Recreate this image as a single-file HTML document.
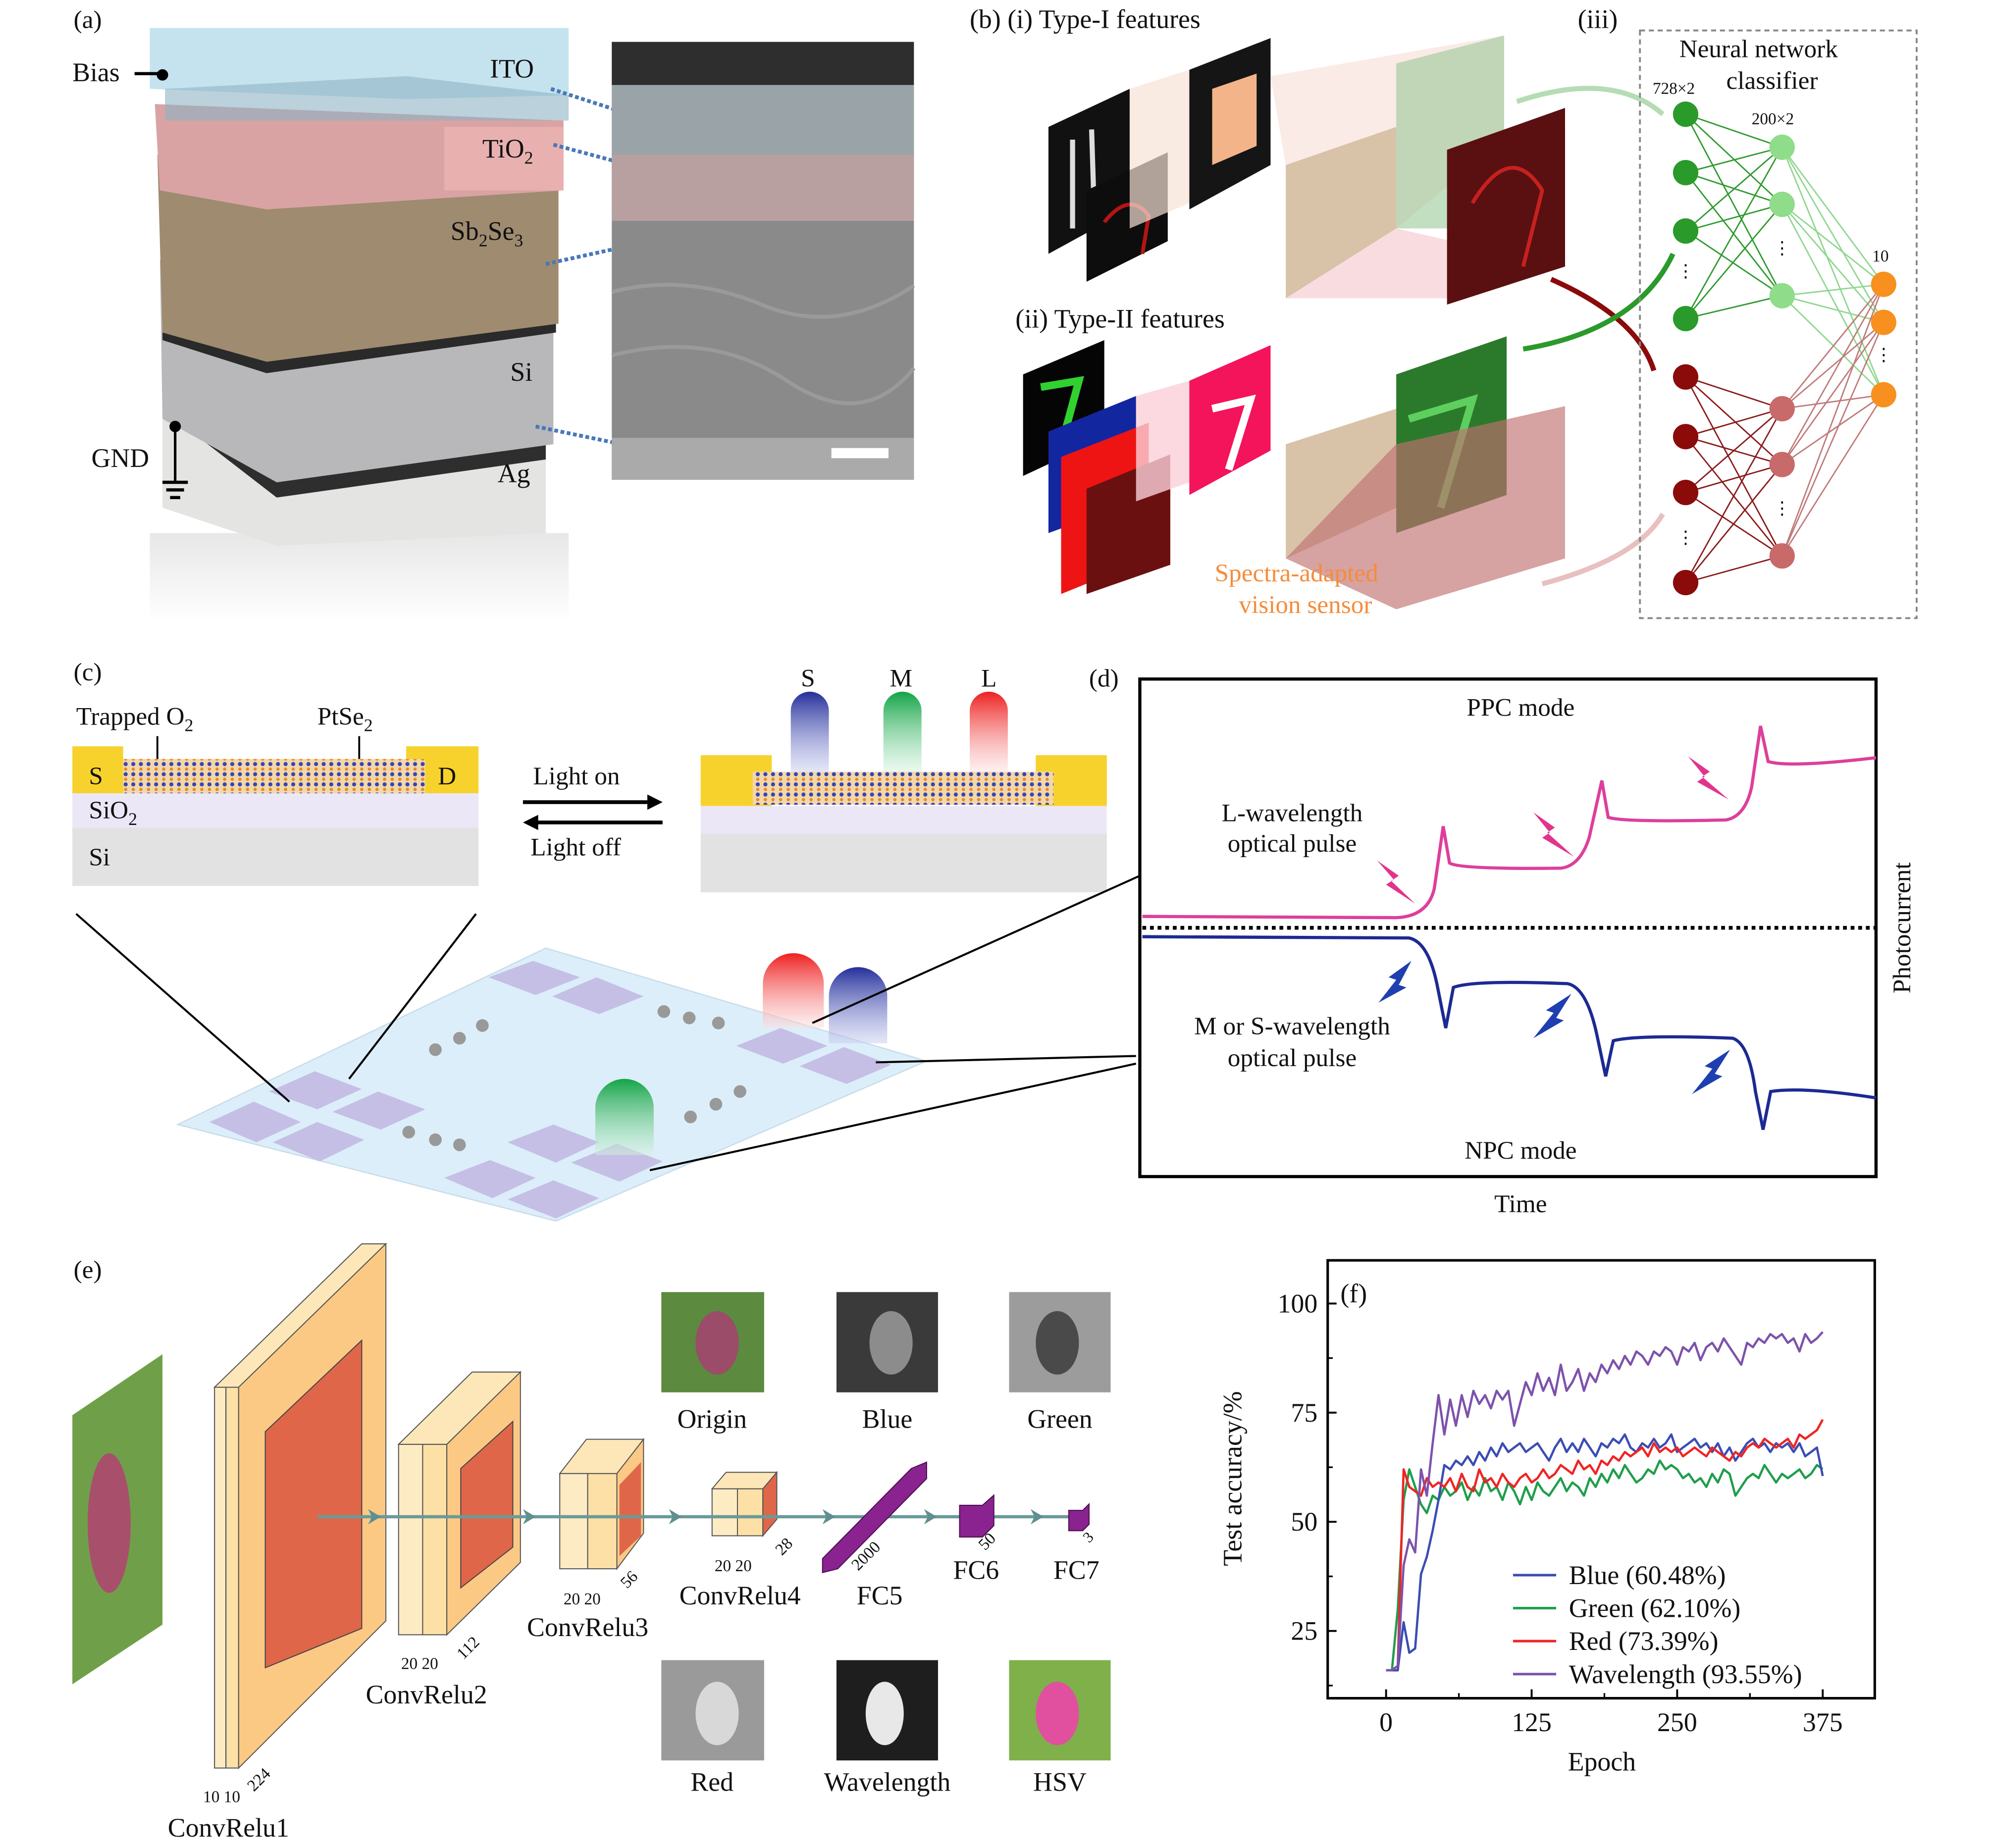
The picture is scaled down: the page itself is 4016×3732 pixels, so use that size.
<!DOCTYPE html>
<html><head><meta charset="utf-8"><style>
html,body{margin:0;padding:0;background:#fff}
svg{display:block}
text{font-family:"Liberation Serif",serif;fill:#111}
</style></head><body>
<svg id="fig" xmlns="http://www.w3.org/2000/svg" width="4016" height="3732" viewBox="0 0 1567 1456" preserveAspectRatio="none">
<defs>
<linearGradient id="gB" x1="0" y1="0" x2="0" y2="1"><stop offset="0" stop-color="#25309a"/><stop offset="1" stop-color="#c9cdf0" stop-opacity="0.5"/></linearGradient>
<linearGradient id="gG" x1="0" y1="0" x2="0" y2="1"><stop offset="0" stop-color="#14a447"/><stop offset="1" stop-color="#d5f3df" stop-opacity="0.5"/></linearGradient>
<linearGradient id="gR" x1="0" y1="0" x2="0" y2="1"><stop offset="0" stop-color="#ee2020"/><stop offset="1" stop-color="#fde0e0" stop-opacity="0.5"/></linearGradient>
<linearGradient id="gShadow" x1="0" y1="0" x2="0" y2="1"><stop offset="0" stop-color="#ddd"/><stop offset="1" stop-color="#fff"/></linearGradient>
<pattern id="lat" width="6" height="8" patternUnits="userSpaceOnUse"><rect width="6" height="8" fill="#f4d7a8"/><circle cx="3" cy="2" r="1.6" fill="#3346b8"/><circle cx="3" cy="6" r="1.3" fill="#e38a2a"/></pattern>
</defs>

<!-- ===== (a) ===== -->
<g>
<text x="58" y="22" font-size="20">(a)</text>
<rect x="118" y="420" width="330" height="70" fill="url(#gShadow)" opacity="0.7"/>
<polygon points="128,330 430,345 430,420 218,430 128,400" fill="#e4e4e2"/>
<polygon points="130,312 218,380 430,350 430,362 218,392 130,324" fill="#2e2e2e"/>
<polygon points="126,205 436,220 436,350 218,380 128,330" fill="#b8b8ba"/>
<polygon points="128,258 210,285 438,255 438,262 210,294 128,268" fill="#2a2a2a"/>
<polygon points="124,122 440,140 440,255 210,285 128,262" fill="#9f8b6f"/>
<polygon points="122,82 444,95 444,150 210,165 126,150" fill="#d9a3a3"/>
<polygon points="350,100 444,100 444,150 350,150" fill="#e8b1b0"/>
<polygon points="118,22 448,22 448,75 320,78 118,70" fill="#c5e3ef"/>
<polygon points="130,70 320,60 448,75 448,95 130,95" fill="#8eb3c3" opacity="0.6"/>
<text x="57" y="64" font-size="21">Bias</text>
<line x1="106" y1="58" x2="128" y2="58" stroke="#000" stroke-width="2.5"/><circle cx="128" cy="59" r="4.5" fill="#000"/>
<text x="386" y="61" font-size="21">ITO</text>
<text x="380" y="124" font-size="21">TiO<tspan font-size="14" dy="5">2</tspan></text>
<text x="355" y="189" font-size="21">Sb<tspan font-size="14" dy="5">2</tspan><tspan dy="-5">Se</tspan><tspan font-size="14" dy="5">3</tspan></text>
<text x="402" y="300" font-size="21">Si</text>
<text x="392" y="380" font-size="21">Ag</text>
<text x="72" y="368" font-size="21">GND</text>
<circle cx="138" cy="336" r="4.5" fill="#000"/><line x1="138" y1="336" x2="138" y2="380" stroke="#000" stroke-width="2"/>
<line x1="128" y1="380" x2="148" y2="380" stroke="#000" stroke-width="2.5"/><line x1="131" y1="386" x2="145" y2="386" stroke="#000" stroke-width="2.5"/><line x1="134" y1="392" x2="142" y2="392" stroke="#000" stroke-width="2.5"/>
<g stroke="#4a78b8" stroke-width="3" stroke-dasharray="3,2">
<line x1="434" y1="70" x2="496" y2="90"/><line x1="436" y1="114" x2="496" y2="130"/><line x1="430" y1="208" x2="494" y2="194"/><line x1="422" y1="336" x2="490" y2="350"/></g>
<g>
<rect x="482" y="33" width="238" height="345" fill="#8a8a8a"/>
<rect x="482" y="33" width="238" height="34" fill="#2e2e2e"/>
<rect x="482" y="67" width="238" height="55" fill="#9aa4a8"/>
<rect x="482" y="122" width="238" height="52" fill="#b8a0a0"/>
<path d="M482,230 Q540,215 600,240 T720,225 M482,280 Q560,260 620,300 T720,290" stroke="#9a9a9a" stroke-width="3" fill="none"/>
<rect x="482" y="345" width="238" height="33" fill="#aaa"/>
<rect x="655" y="353" width="45" height="8" fill="#fff"/>
</g>
</g>

<!-- ===== (b) ===== -->
<g>
<text x="764" y="22" font-size="21">(b) (i) Type-I features</text>
<text x="800" y="258" font-size="21">(ii) Type-II features</text>
<text x="1243" y="22" font-size="21">(iii)</text>
<polygon points="826,100 890,70 890,165 826,200" fill="#111"/>
<path d="M845,110 L845,180 M860,102 L862,165" stroke="#ddd" stroke-width="4"/>
<polygon points="856,150 920,120 920,190 856,222" fill="#0d0d0d"/>
<path d="M870,175 Q890,150 905,170 L900,200" stroke="#b51414" stroke-width="3" fill="none"/>
<polygon points="890,70 937,55 937,160 890,180" fill="#f7e2d6" opacity="0.7"/>
<polygon points="937,55 1001,30 1001,130 937,165" fill="#151515"/>
<polygon points="955,70 990,58 990,115 955,130" fill="#f4b48a"/>
<polygon points="1001,60 1185,28 1185,110 1100,180 1013,130" fill="#f6ded6" opacity="0.6"/>
<polygon points="1013,130 1100,100 1100,180 1013,235" fill="#d8c2a8"/>
<polygon points="1100,50 1185,28 1185,180 1100,180" fill="#8fc58f" opacity="0.55"/>
<polygon points="1013,235 1140,235 1233,210 1100,180" fill="#f7cdd2" opacity="0.7"/>
<polygon points="1140,118 1233,85 1233,210 1140,240" fill="#5a1010"/>
<path d="M1160,160 Q1190,110 1215,150 L1200,210" stroke="#c82020" stroke-width="3" fill="none"/>
<polygon points="806,295 870,268 870,345 806,375" fill="#050505"/>
<path d="M820,305 L850,300 L835,355" stroke="#31d12f" stroke-width="6" fill="none"/>
<polygon points="826,340 895,312 895,395 826,420" fill="#1226a0"/>
<polygon points="836,360 905,333 905,440 836,468" fill="#ee1414"/>
<polygon points="856,385 922,358 922,445 856,468" fill="#6b1010"/>
<polygon points="895,312 937,300 937,380 895,395" fill="#fbd0d8" opacity="0.8"/>
<polygon points="937,300 1001,272 1001,355 937,390" fill="#f3145b"/>
<path d="M955,322 L985,315 L968,370" stroke="#fff" stroke-width="6" fill="none"/>
<polygon points="1013,350 1100,322 1100,400 1013,440" fill="#d8c2a8"/>
<polygon points="1100,295 1187,265 1187,390 1100,420" fill="#2b7a2b"/>
<path d="M1110,330 L1160,315 L1135,400" stroke="#5ecf5e" stroke-width="6" fill="none"/>
<polygon points="1100,350 1233,320 1233,440 1100,480 1013,440" fill="#c07070" opacity="0.65"/>
<text x="957" y="458" font-size="20" style="fill:#f58c3c">Spectra-adapted</text>
<text x="976" y="483" font-size="20" style="fill:#f58c3c">vision sensor</text>
<path d="M1195,80 Q1270,55 1310,90" stroke="#b5dcb5" stroke-width="4" fill="none"/>
<path d="M1222,220 Q1290,250 1303,292" stroke="#8b0a0a" stroke-width="4" fill="none"/>
<path d="M1200,275 Q1290,260 1318,200" stroke="#2a9a2a" stroke-width="4" fill="none"/>
<path d="M1215,460 Q1290,440 1310,405" stroke="#e8c0c0" stroke-width="4" fill="none"/>
<rect x="1292" y="24" width="218" height="463" fill="none" stroke="#888" stroke-width="1.5" stroke-dasharray="4,3"/>
<text x="1323" y="45" font-size="20">Neural network</text>
<text x="1360" y="70" font-size="20">classifier</text>
<text x="1302" y="74" font-size="13">728×2</text>
<text x="1380" y="98" font-size="13">200×2</text>
<text x="1475" y="206" font-size="13">10</text>
<g id="nn"></g>
</g>

<!-- ===== (c) ===== -->
<g>
<text x="58" y="536" font-size="20">(c)</text>
<rect x="57" y="652" width="320" height="46" fill="#e2e2e2"/>
<rect x="57" y="625" width="320" height="27" fill="#ece7f7"/>
<rect x="57" y="588" width="40" height="37" fill="#f7d22c"/>
<rect x="320" y="588" width="57" height="37" fill="#f7d22c"/>
<rect x="97" y="598" width="238" height="27" fill="url(#lat)"/>
<text x="60" y="571" font-size="20">Trapped O<tspan font-size="14" dy="5">2</tspan></text>
<text x="250" y="571" font-size="20">PtSe<tspan font-size="14" dy="5">2</tspan></text>
<line x1="124" y1="598" x2="124" y2="580" stroke="#000" stroke-width="1.5"/><line x1="283" y1="598" x2="283" y2="580" stroke="#000" stroke-width="1.5"/>
<text x="70" y="618" font-size="20">S</text>
<text x="345" y="618" font-size="20">D</text>
<text x="70" y="645" font-size="20">SiO<tspan font-size="14" dy="5">2</tspan></text>
<text x="70" y="682" font-size="20">Si</text>
<text x="420" y="618" font-size="20">Light on</text>
<text x="418" y="674" font-size="20">Light off</text>
<line x1="412" y1="632" x2="514" y2="632" stroke="#000" stroke-width="3"/><polygon points="522,632 510,626 510,638" fill="#000"/>
<line x1="420" y1="648" x2="522" y2="648" stroke="#000" stroke-width="3"/><polygon points="412,648 424,642 424,654" fill="#000"/>
<rect x="552" y="657" width="320" height="46" fill="#e2e2e2"/>
<rect x="552" y="635" width="320" height="22" fill="#ece7f7"/>
<rect x="552" y="595" width="56" height="40" fill="#f7d22c"/><rect x="816" y="595" width="56" height="40" fill="#f7d22c"/>
<rect x="593" y="608" width="237" height="26" fill="url(#lat)"/>
<path d="M623,608 V560 A15,15 0 0 1 653,560 V608 Z" fill="url(#gB)"/>
<path d="M696,608 V560 A15,15 0 0 1 726,560 V608 Z" fill="url(#gG)"/>
<path d="M764,608 V560 A15,15 0 0 1 794,560 V608 Z" fill="url(#gR)"/>
<text x="631" y="541" font-size="20">S</text>
<text x="701" y="541" font-size="20">M</text>
<text x="773" y="541" font-size="20">L</text>
<polygon points="140,886 430,747 730,836 438,962" fill="#dceef9" stroke="#c8dcea"/>
<g fill="#c5bfe6">
<polygon points="385,770 420,757 457,770 422,784"/><polygon points="435,785 470,770 507,785 472,799"/>
<polygon points="212,860 248,844 285,858 250,874"/><polygon points="262,876 298,860 335,874 300,890"/>
<polygon points="165,884 200,868 237,884 202,900"/><polygon points="215,900 250,884 287,898 252,915"/>
<polygon points="580,824 615,810 652,824 617,838"/><polygon points="630,840 665,825 702,839 667,854"/>
<polygon points="400,900 436,886 472,900 438,916"/><polygon points="450,916 486,901 522,915 488,931"/>
<polygon points="350,928 386,914 422,928 388,944"/><polygon points="400,945 436,930 472,944 438,960"/>
</g>
<g fill="#999">
<circle cx="343" cy="827" r="5"/><circle cx="362" cy="818" r="5"/><circle cx="380" cy="808" r="5"/>
<circle cx="523" cy="797" r="5"/><circle cx="543" cy="802" r="5"/><circle cx="566" cy="806" r="5"/>
<circle cx="322" cy="892" r="5"/><circle cx="343" cy="898" r="5"/><circle cx="362" cy="902" r="5"/>
<circle cx="544" cy="880" r="5"/><circle cx="564" cy="870" r="5"/><circle cx="583" cy="860" r="5"/>
</g>
<path d="M601,810 V775 A24,24 0 0 1 649,775 V810 Z" fill="url(#gR)"/>
<path d="M653,822 V785 A23,23 0 0 1 699,785 V822 Z" fill="url(#gB)"/>
<path d="M469,910 V873 A23,23 0 0 1 515,873 V910 Z" fill="url(#gG)"/>
<g stroke="#000" stroke-width="1.6">
<line x1="60" y1="720" x2="228" y2="868"/><line x1="375" y1="720" x2="275" y2="850"/>
<line x1="640" y1="806" x2="898" y2="690"/><line x1="690" y1="837" x2="895" y2="832"/><line x1="512" y1="922" x2="895" y2="838"/></g>
</g>

<!-- ===== (d) ===== -->
<g>
<text x="858" y="541" font-size="20">(d)</text>
<rect x="898" y="535" width="580" height="392" fill="#fff" stroke="#000" stroke-width="2.5"/>
<text x="1198" y="564" font-size="20" text-anchor="middle">PPC mode</text>
<text x="1198" y="913" font-size="20" text-anchor="middle">NPC mode</text>
<text x="1198" y="955" font-size="20" text-anchor="middle">Time</text>
<text x="1505" y="731" font-size="20" text-anchor="middle" transform="rotate(-90 1505 731)">Photocurrent</text>
<text x="1018" y="647" font-size="20" text-anchor="middle">L-wavelength</text>
<text x="1018" y="671" font-size="20" text-anchor="middle">optical pulse</text>
<text x="1018" y="815" font-size="20" text-anchor="middle">M or S-wavelength</text>
<text x="1018" y="840" font-size="20" text-anchor="middle">optical pulse</text>
<line x1="900" y1="731" x2="1477" y2="731" stroke="#000" stroke-width="3" stroke-dasharray="3,3"/>
<path d="M900,722 L1100,723 Q1125,722 1130,700 L1137,651 L1142,680 Q1150,685 1230,684 Q1245,682 1252,660 L1262,615 L1267,644 Q1280,648 1360,646 Q1375,643 1380,620 L1387,572 L1393,600 Q1410,605 1478,597" fill="none" stroke="#dd3f9c" stroke-width="2.5"/>
<path d="M900,738 L1110,739 Q1125,742 1132,775 L1139,810 L1145,778 Q1160,772 1235,775 Q1250,778 1258,815 L1265,848 L1271,820 Q1290,815 1365,818 Q1378,822 1383,860 L1389,890 L1395,860 Q1420,856 1478,865" fill="none" stroke="#1c2a94" stroke-width="2.5"/>
<g fill="#e2348d">
<polygon points="1085,678 1102,690 1096,694 1115,712 1092,697 1098,693"/>
<polygon points="1208,640 1225,652 1219,656 1240,675 1215,660 1221,656"/>
<polygon points="1330,596 1347,608 1341,612 1362,630 1337,616 1343,612"/></g>
<g fill="#1e3fb0">
<polygon points="1112,757 1102,776 1108,778 1086,790 1100,772 1094,770"/>
<polygon points="1238,783 1226,802 1232,804 1208,818 1224,798 1218,796"/>
<polygon points="1363,827 1351,846 1357,848 1333,862 1349,842 1343,840"/></g>
</g>

<!-- ===== (e) ===== -->
<g>
<text x="58" y="1007" font-size="20">(e)</text>
<polygon points="57,1115 128,1067 128,1280 57,1327" fill="#6fa049"/>
<ellipse cx="86" cy="1200" rx="17" ry="55" fill="#a8506b"/>
<polygon points="169,1093 188,1093 304,980 285,980" fill="#fde7b8" stroke="#555" stroke-width="0.8"/>
<rect x="169" y="1093" width="9" height="300" fill="#fdebc4" stroke="#555" stroke-width="0.8"/>
<rect x="178" y="1093" width="10" height="300" fill="#fce0a6" stroke="#555" stroke-width="0.8"/>
<polygon points="188,1093 304,980 304,1277 188,1393" fill="#fcc985" stroke="#555" stroke-width="0.8"/>
<polygon points="209,1128 285,1056 285,1283 209,1314" fill="#e0664a" stroke="#444" stroke-width="0.8"/>
<text x="160" y="1420" font-size="13">10 10</text>
<text x="200" y="1412" font-size="13" transform="rotate(-45 200 1412)">224</text>
<text x="180" y="1447" font-size="21" text-anchor="middle">ConvRelu1</text>
<polygon points="314,1138 352,1138 410,1081 372,1081" fill="#fde7b8" stroke="#555" stroke-width="0.8"/>
<rect x="314" y="1138" width="19" height="150" fill="#fdebc4" stroke="#555" stroke-width="0.8"/>
<rect x="333" y="1138" width="19" height="150" fill="#fce0a6" stroke="#555" stroke-width="0.8"/>
<polygon points="352,1138 410,1081 410,1231 352,1288" fill="#fcc985" stroke="#555" stroke-width="0.8"/>
<polygon points="363,1157 404,1120 404,1219 363,1251" fill="#e0664a" stroke="#444" stroke-width="0.8"/>
<text x="316" y="1315" font-size="13">20 20</text>
<text x="365" y="1308" font-size="13" transform="rotate(-45 365 1308)">112</text>
<text x="336" y="1342" font-size="21" text-anchor="middle">ConvRelu2</text>
<polygon points="441,1161 486,1161 507,1134 462,1134" fill="#fde7b8" stroke="#555" stroke-width="0.8"/>
<rect x="441" y="1161" width="22" height="75" fill="#fdebc4" stroke="#555" stroke-width="0.8"/>
<rect x="463" y="1161" width="23" height="75" fill="#fce0a6" stroke="#555" stroke-width="0.8"/>
<polygon points="486,1161 507,1134 507,1208 486,1236" fill="#fcc985" stroke="#555" stroke-width="0.8"/>
<polygon points="488,1170 505,1152 505,1210 488,1226" fill="#e0664a"/>
<text x="444" y="1264" font-size="13">20 20</text>
<text x="494" y="1252" font-size="13" transform="rotate(-45 494 1252)">56</text>
<text x="463" y="1289" font-size="21" text-anchor="middle">ConvRelu3</text>
<polygon points="561,1173 601,1173 612,1160 572,1160" fill="#fde7b8" stroke="#555" stroke-width="0.8"/>
<rect x="561" y="1173" width="20" height="37" fill="#fdebc4" stroke="#555" stroke-width="0.8"/>
<rect x="581" y="1173" width="20" height="37" fill="#fce0a6" stroke="#555" stroke-width="0.8"/>
<polygon points="601,1173 612,1160 612,1197 601,1210" fill="#e0664a" stroke="#555" stroke-width="0.8"/>
<text x="563" y="1238" font-size="13">20 20</text>
<text x="616" y="1226" font-size="13" transform="rotate(-45 616 1226)">28</text>
<text x="583" y="1264" font-size="21" text-anchor="middle">ConvRelu4</text>
<line x1="250" y1="1195" x2="858" y2="1195" stroke="#6a9a9a" stroke-width="2.5"/>
<g fill="#5f8f8f">
<polygon points="300,1195 290,1189 293,1195 290,1201"/><polygon points="422,1195 412,1189 415,1195 412,1201"/>
<polygon points="537,1195 527,1189 530,1195 527,1201"/><polygon points="658,1195 648,1189 651,1195 648,1201"/>
<polygon points="738,1195 728,1189 731,1195 728,1201"/><polygon points="822,1195 812,1189 815,1195 812,1201"/></g>
<polygon points="648,1228 718,1157 730,1152 730,1165 660,1236 648,1239" fill="#8a2290" stroke="#4a0f4e" stroke-width="0.8"/>
<text x="676" y="1238" font-size="13" transform="rotate(-45 676 1238)">2000</text>
<text x="693" y="1264" font-size="21" text-anchor="middle">FC5</text>
<polygon points="756,1186 774,1186 783,1178 783,1202 774,1211 756,1211" fill="#8a2290" stroke="#4a0f4e" stroke-width="0.8"/>
<text x="776" y="1222" font-size="13" transform="rotate(-45 776 1222)">50</text>
<text x="769" y="1244" font-size="21" text-anchor="middle">FC6</text>
<polygon points="842,1190 853,1190 858,1185 858,1201 853,1206 842,1206" fill="#8a2290" stroke="#4a0f4e" stroke-width="0.8"/>
<text x="858" y="1216" font-size="12" transform="rotate(-45 858 1216)">3</text>
<text x="848" y="1244" font-size="21" text-anchor="middle">FC7</text>
<rect x="521" y="1018" width="81" height="79" fill="#5c8a3e"/><ellipse cx="565" cy="1058" rx="17" ry="25" fill="#9b4c68"/>
<rect x="659" y="1018" width="80" height="79" fill="#3a3a3a"/><ellipse cx="702" cy="1058" rx="17" ry="25" fill="#8c8c8c"/>
<rect x="795" y="1018" width="80" height="79" fill="#9c9c9c"/><ellipse cx="833" cy="1058" rx="17" ry="25" fill="#4a4a4a"/>
<rect x="521" y="1308" width="81" height="79" fill="#9a9a9a"/><ellipse cx="565" cy="1350" rx="17" ry="25" fill="#d8d8d8"/>
<rect x="659" y="1308" width="80" height="79" fill="#1e1e1e"/><ellipse cx="697" cy="1350" rx="15" ry="25" fill="#e8e8e8"/>
<rect x="795" y="1308" width="80" height="79" fill="#7fb04a"/><ellipse cx="833" cy="1350" rx="17" ry="25" fill="#e0509f"/>
<text x="561" y="1125" font-size="21" text-anchor="middle">Origin</text>
<text x="699" y="1125" font-size="21" text-anchor="middle">Blue</text>
<text x="835" y="1125" font-size="21" text-anchor="middle">Green</text>
<text x="561" y="1411" font-size="21" text-anchor="middle">Red</text>
<text x="699" y="1411" font-size="21" text-anchor="middle">Wavelength</text>
<text x="835" y="1411" font-size="21" text-anchor="middle">HSV</text>
</g>

<!-- ===== (f) chart ===== -->
<g id="chartF">
<rect x="1046" y="993" width="431" height="345" fill="none" stroke="#000" stroke-width="2"/>
<text x="1056" y="1026" font-size="21">(f)</text>
<text x="978" y="1165" font-size="21" text-anchor="middle" transform="rotate(-90 978 1165)">Test accuracy/%</text>
<text x="1262" y="1395" font-size="21" text-anchor="middle">Epoch</text>
<g id="ticks"></g><g id="series"></g><g id="legend"></g>
</g>
</svg>
<script>
const epochs = [0,5,10,15,20,25,30,35,40,45,50,55,60,65,70,75,80,85,90,95,100,105,110,115,120,125,130,135,140,145,150,155,160,165,170,175,180,185,190,195,200,205,210,215,220,225,230,235,240,245,250,255,260,265,270,275,280,285,290,295,300,305,310,315,320,325,330,335,340,345,350,355,360,365,370,375];
const blueAcc = [16,16,16,27,20,21,38,42,48,55,63,62,64,63,65,63,66,64,67,65,68,66,67,68,66,67,68,66,64,67,69,66,68,66,69,67,65,68,67,69,68,70,67,66,68,67,69,67,68,70,66,67,68,69,67,68,66,68,65,67,64,66,68,69,67,68,66,68,67,68,66,68,65,66,67,60.5];
const greenAcc = [16,16,30,55,62,58,54,52,56,55,58,56,57,59,55,58,56,60,57,58,55,59,57,54,58,55,59,57,56,58,60,57,59,58,56,60,58,61,59,62,60,63,61,59,60,62,61,64,62,63,62,60,61,59,60,58,61,59,62,61,56,58,60,61,60,63,61,59,61,60,61,62,60,61,63,62.1];
const redAcc = [16,16,17,62,58,57,56,60,58,59,58,60,57,61,58,57,62,59,60,58,61,59,58,60,61,59,60,62,60,61,63,62,61,64,62,63,61,64,63,65,64,66,65,66,67,65,68,66,67,66,67,65,66,67,66,65,67,66,65,64,66,65,67,68,67,69,68,67,68,69,67,70,69,70,71,73.4];
const wavelengthAcc = [16,16,17,40,46,43,62,56,68,79,70,78,72,79,74,80,77,79,76,80,78,80,72,77,82,79,84,80,83,79,86,80,82,85,80,84,82,86,84,87,85,88,86,89,88,86,89,88,90,89,86,90,89,91,87,90,91,89,92,90,88,86,91,90,92,91,93,92,93,91,92,89,93,91,92,93.5];
const xTicks = [0,125,250,375];
const yTicks = [25,50,75,100];
const legendLabels = ["Blue (60.48%)","Green (62.10%)","Red (73.39%)","Wavelength (93.55%)"];
const seriesColors = ["#3b4db3","#1f9e4c","#f02424","#7d52ac"];

const NS="http://www.w3.org/2000/svg";
const X0=1046,X1=1477,Y0=993,Y1=1338;
function xS(e){return 1092+e*(1436-1092)/375;}
function yS(v){return 1199-(v-50)*3.44;}
function mk(tag,attrs,parent){const el=document.createElementNS(NS,tag);for(const k in attrs)el.setAttribute(k,attrs[k]);parent.appendChild(el);return el;}

const tg=document.getElementById('ticks');
xTicks.forEach(t=>{
  const l=mk('line',{x1:xS(t),x2:xS(t),y1:Y1,y2:Y1-7,stroke:'#000','stroke-width':1.5},tg);
  
  
  const tx=mk('text',{x:xS(t),y:Y1+26,'font-size':21,'text-anchor':'middle'},tg);tx.textContent=t;
  
  
  if(t<375){const m=mk('line',{x1:xS(t+62.5),x2:xS(t+62.5),y1:Y1,y2:Y1-4,stroke:'#000','stroke-width':1.3},tg);
  
  }
});
yTicks.forEach(t=>{
  const l=mk('line',{x1:X0,x2:X0+7,y1:yS(t),y2:yS(t),stroke:'#000','stroke-width':1.5},tg);
  
  
  const tx=mk('text',{x:X0-8,y:yS(t)+7,'font-size':21,'text-anchor':'end'},tg);tx.textContent=t;
  
  
  const m=mk('line',{x1:X0,x2:X0+4,y1:yS(t-12.5),y2:yS(t-12.5),stroke:'#000','stroke-width':1.3},tg);
  
  
});
const sg=document.getElementById('series');
const allSeries=[blueAcc,greenAcc,redAcc,wavelengthAcc];
const seriesNames=['blue-series','green-series','red-series','wavelength-series'];
[1,0,2,3].forEach(i=>{
  const pts=epochs.map((e,j)=>xS(e).toFixed(1)+','+yS(allSeries[i][j]).toFixed(1)).join(' ');
  const pl=mk('polyline',{points:pts,fill:'none',stroke:seriesColors[i],'stroke-width':1.8,'stroke-linejoin':'round'},sg);
  
  
});
const lg=document.getElementById('legend');
legendLabels.forEach((lab,i)=>{
  const y=1241+i*26;
  const l=mk('line',{x1:1192,x2:1226,y1:y,y2:y,stroke:seriesColors[i],'stroke-width':2},lg);
  
  
  const tx=mk('text',{x:1236,y:y+7,'font-size':21},lg);tx.textContent=lab;
  
  
});

const nn=document.getElementById('nn');
const L1g=[90,136,182,251], L2g=[116,161,233], L3=[224,254,311], L1r=[297,344,388,459], L2r=[322,366,438];
function connect(xa,ya,xb,yb,col){ya.forEach(a=>yb.forEach(b=>{const l=mk('line',{x1:xa,y1:a,x2:xb,y2:b,stroke:col,'stroke-width':1.1},nn);
  
  }));}
connect(1328,L1g,1404,L2g,'#2f9a2f');connect(1404,L2g,1484,L3,'#8fd68f');
connect(1328,L1r,1404,L2r,'#8b1a1a');connect(1404,L2r,1484,L3,'#c07a7a');
function nodes(x,ys,col,name){ys.forEach(y=>{const c=mk('circle',{cx:x,cy:y,r:10,fill:col},nn);
  
  });}
nodes(1328,L1g,'#2a9a2a','input-node-green');nodes(1404,L2g,'#8fdc8a','hidden-node-green');
nodes(1328,L1r,'#8b0a0a','input-node-red');nodes(1404,L2r,'#c86a6a','hidden-node-red');
nodes(1484,L3,'#f7901e','output-node');
[[1328,218],[1404,200],[1484,284],[1328,428],[1404,405]].forEach(p=>{const t=mk('text',{x:p[0],y:p[1],'font-size':14,'text-anchor':'middle'},nn);t.textContent='⋮';
  
  });
</script>
</body></html>
